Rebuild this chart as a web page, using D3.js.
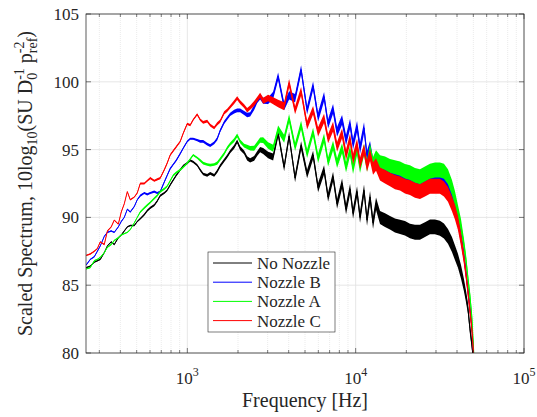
<!DOCTYPE html>
<html>
<head>
<meta charset="utf-8">
<script src="https://cdn.jsdelivr.net/npm/d3@7"></script>
<style>
  body { margin: 0; background: #fff; }
</style>
</head>
<body>
<div id="chart"></div>
<script>
// frequencies (Hz) shared by all four spectra
var freqHz = [
  251, 265, 280, 292, 304, 321, 335, 353, 368, 389,
  405, 422, 440, 458, 484, 504, 525, 555, 578, 602,
  636, 662, 690, 729, 759, 791, 824, 859, 907, 945,
  998, 1040, 1083, 1144, 1192, 1242, 1312, 1367, 1443, 1504,
  1567, 1655, 1724, 1796, 1897, 1977, 2059, 2175, 2266, 2361,
  2494, 2598, 2707,
  2820, 3020, 3233, 3462, 3758, 4023, 4366, 4740, 5145, 5585,
  5979, 6490, 6855, 7340, 7753, 8302, 8766, 9260, 9647, 10190,
  10615, 11210, 11680, 12170, 12680, 13210,
  13950, 14940, 15990, 17120, 18340, 19630, 21020, 22510, 24100, 25800,
  27630, 29580, 31670, 33450, 35340, 37320, 38880, 40510, 42210, 43970,
  45190, 46440, 47730, 49050, 50410, 51800
];

// scaled spectrum, dB
var noNozzle = [
  86.3, 86.4, 86.7, 86.8, 86.9, 87.4, 87.9, 88.2, 88.0, 88.5,
  88.7, 89.0, 89.3, 89.4, 89.4, 89.7, 89.9, 90.2, 90.5, 90.7,
  90.9, 91.2, 91.6, 91.8, 92.0, 92.4, 92.75, 93.1, 93.5, 93.8,
  94.0, 94.2, 94.1, 93.85, 93.5, 93.2, 93.1, 93.25, 93.1, 93.4,
  93.8, 94.2, 94.5, 94.85, 95.2, 95.6, 95.1, 94.8, 94.35, 94.2,
  94.35, 94.7, 95.0,
  94.9, 94.6, 94.45, 96.2, 93.7, 96.0, 92.9, 95.3, 93.2, 94.6,
  92.2, 93.5, 91.5, 93.0, 91.0, 92.5, 90.6, 92.1, 90.3, 91.9,
  90.0, 92.0, 89.8, 91.5, 89.6, 91.0,
  90.0, 89.8, 89.6, 89.4, 89.3, 89.2, 89.0, 88.9, 88.9, 89.1,
  89.3, 89.3, 89.2, 89.0, 88.6, 88.0, 87.4, 86.8, 86.0, 85.0,
  84.2, 83.3, 81.8, 80.6, 79.0, 76.0
];
var nozzleB = [
  86.5, 86.9, 87.1, 87.5, 87.9, 88.6, 88.9, 89.0, 88.9, 89.3,
  89.7, 90.0, 90.6, 90.4, 90.8, 91.3, 91.6, 91.8, 91.7, 91.8,
  91.9, 91.8, 91.9, 92.6, 93.1, 93.6, 93.9, 94.2, 94.7, 95.1,
  95.6, 95.8, 95.8, 95.7, 95.6, 95.6, 95.4, 95.3, 95.5, 95.8,
  96.4, 97.0, 97.3, 97.6, 97.8, 97.9, 97.9, 97.7, 97.55, 97.6,
  98.1, 98.6, 98.9,
  98.6, 98.6, 99.0, 100.4, 98.2, 99.0, 98.8, 100.9, 97.9, 99.7,
  97.4, 98.9, 96.9, 98.0, 96.3, 97.2, 95.7, 96.9, 95.4, 96.7,
  95.1, 96.6, 94.5, 95.2, 93.9, 94.2,
  93.5, 93.3, 93.1, 92.9, 92.8, 92.6, 92.5, 92.3, 92.2, 92.4,
  92.7, 92.7, 92.7, 92.5, 92.0, 91.3, 90.6, 89.8, 88.6, 87.2,
  86.0, 84.7, 83.3, 81.9, 79.6, 76.0
];
var nozzleA = [
  86.2, 86.3, 86.8, 86.9, 87.05, 87.4, 87.8, 88.0, 88.3, 88.5,
  88.7, 88.8, 88.9, 89.1, 89.6, 90.0, 90.4, 90.7, 90.9, 91.1,
  91.4, 91.6, 91.9, 92.1, 92.3, 92.7, 93.1, 93.3, 93.5, 93.7,
  94.0, 94.3, 94.6, 94.4, 94.2, 94.0, 93.9, 93.85, 93.9, 94.0,
  94.3, 94.7, 95.1, 95.4, 95.7, 96.05, 95.6, 95.3, 95.2, 95.1,
  95.1, 95.4, 95.7,
  95.7, 95.3, 95.1, 96.5, 95.8, 97.3, 95.2, 96.8, 94.7, 96.3,
  94.35, 95.85, 94.1, 95.3, 94.0, 95.1, 93.7, 94.9, 93.6, 95.0,
  93.7, 95.0, 93.8, 95.0, 94.0, 94.5,
  94.1, 94.0, 93.8, 93.7, 93.6, 93.4, 93.3, 93.1, 93.0, 93.2,
  93.4, 93.5, 93.5, 93.4, 93.0, 92.2, 91.4, 90.4, 89.4, 88.0,
  86.9, 85.5, 84.2, 82.6, 79.8, 76.0
];
var nozzleC = [
  87.2, 87.3, 87.5, 87.7, 88.2, 88.0, 89.0, 89.3, 89.8, 89.5,
  90.4, 91.0, 91.9, 91.3, 91.5, 91.8, 92.5, 92.5, 92.7, 92.9,
  92.7, 92.8, 92.9, 93.5, 94.0, 94.6, 94.9, 95.2, 95.6, 96.2,
  96.9, 96.8, 97.2, 97.6, 97.2, 97.0, 97.1, 96.8, 96.6, 96.9,
  97.1, 97.7, 97.9, 98.15, 98.5, 98.8, 98.5, 98.2, 97.9, 98.1,
  98.4, 98.7, 99.0,
  98.6, 98.8, 98.6, 98.4, 98.2, 99.9, 97.9, 99.3, 96.8, 97.9,
  96.3, 97.3, 95.8, 96.7, 95.2, 96.2, 94.6, 95.8, 94.3, 95.4,
  94.0, 95.0, 93.8, 94.6, 93.6, 93.9,
  93.2, 93.0, 92.8, 92.6, 92.5, 92.3, 92.2, 92.0, 91.9, 92.1,
  92.3, 92.3, 92.3, 92.1, 91.7, 91.0, 90.4, 89.6, 88.4, 87.0,
  85.8, 84.5, 83.1, 81.7, 79.5, 76.0
];

// half width (dB) of the dense scatter of the narrow-band spectra
var scatterDb = [
  0.05, 0.05, 0.05, 0.05, 0.05, 0.05, 0.05, 0.05, 0.05, 0.05,
  0.05, 0.05, 0.05, 0.05, 0.05, 0.05, 0.08, 0.08, 0.08, 0.08,
  0.08, 0.08, 0.08, 0.08, 0.08, 0.08, 0.08, 0.08, 0.08, 0.08,
  0.08, 0.08, 0.08, 0.08, 0.1, 0.1, 0.1, 0.1, 0.1, 0.12,
  0.12, 0.12, 0.12, 0.12, 0.14, 0.14, 0.14, 0.14, 0.16, 0.16,
  0.18, 0.18, 0.2,
  0.22, 0.24, 0.26, 0.28, 0.3, 0.3, 0.3, 0.32, 0.32, 0.32,
  0.34, 0.34, 0.34, 0.36, 0.36, 0.36, 0.38, 0.38, 0.4, 0.4,
  0.42, 0.42, 0.44, 0.44, 0.46, 0.46,
  0.48, 0.5, 0.5, 0.52, 0.52, 0.54, 0.54, 0.55, 0.55, 0.55,
  0.55, 0.55, 0.55, 0.55, 0.55, 0.55, 0.55, 0.52, 0.5, 0.45,
  0.42, 0.4, 0.4, 0.4, 0.4, 0.4
];

var seriesNames = ["No Nozzle", "Nozzle B", "Nozzle A", "Nozzle C"];
var seriesValues = [noNozzle, nozzleB, nozzleA, nozzleC];

var yTicks = [80, 85, 90, 95, 100, 105];
var xDecades = [1e3, 1e4, 1e5];

// plot size
var width = 537, height = 417;
var margin = { top: 14, right: 13, bottom: 64, left: 86 };
var plot_width = width - margin.left - margin.right;
var plot_height = height - margin.top - margin.bottom;

var colors = ["#000000", "#0000ff", "#00ff00", "#ff0000"];
var serif = "'Liberation Serif', 'Times New Roman', Times, serif";

var x = d3.scaleLog().domain([250, 1e5]).range([0, plot_width]);
var y = d3.scaleLinear().domain([80, 105]).range([plot_height, 0]);

var svg = d3
  .select("#chart")
  .append("svg")
  .attr("width", width)
  .attr("height", height)
  .style("font-family", serif);

var g = svg
  .append("g")
  .attr("transform", "translate(" + margin.left + "," + margin.top + ")");

g.append("clipPath")
  .attr("id", "clip")
  .append("rect")
  .attr("width", plot_width)
  .attr("height", plot_height);

// minor and major grid
var minorX = x.ticks().filter(function(d) {
  return Math.abs(Math.log10(d) - Math.round(Math.log10(d))) > 1e-6;
});

g.selectAll(".minor-grid")
  .data(minorX)
  .enter()
  .append("line")
  .attr("x1", function(d) { return x(d); })
  .attr("x2", function(d) { return x(d); })
  .attr("y1", 0)
  .attr("y2", plot_height)
  .attr("stroke", "#e2e2e2")
  .attr("stroke-width", 0.7)
  .attr("stroke-dasharray", "1,1");

g.selectAll(".xgrid")
  .data(xDecades)
  .enter()
  .append("line")
  .attr("x1", function(d) { return x(d); })
  .attr("x2", function(d) { return x(d); })
  .attr("y1", 0)
  .attr("y2", plot_height)
  .attr("stroke", "#e0e0e0")
  .attr("stroke-width", 0.8);

g.selectAll(".ygrid")
  .data(yTicks)
  .enter()
  .append("line")
  .attr("x1", 0)
  .attr("x2", plot_width)
  .attr("y1", function(d) { return y(d); })
  .attr("y2", function(d) { return y(d); })
  .attr("stroke", "#e0e0e0")
  .attr("stroke-width", 0.8);

// spectra: dense scatter band plus the trace itself
var band = d3
  .area()
  .x(function(d) { return x(d.f); })
  .y0(function(d) { return y(d.v - d.s); })
  .y1(function(d) { return y(d.v + d.s); });

var line = d3
  .line()
  .x(function(d) { return x(d.f); })
  .y(function(d) { return y(d.v); });

var curves = g.append("g").attr("clip-path", "url(#clip)");

seriesValues.forEach(function(values, i) {
  var pts = freqHz.map(function(f, j) {
    return { f: f, v: values[j], s: scatterDb[j] };
  });
  curves
    .append("path")
    .datum(pts)
    .attr("d", band)
    .attr("fill", colors[i]);
  curves
    .append("path")
    .datum(pts)
    .attr("d", line)
    .attr("fill", "none")
    .attr("stroke", colors[i])
    .attr("stroke-width", 1);
});

// box and ticks
g.append("rect")
  .attr("width", plot_width)
  .attr("height", plot_height)
  .attr("fill", "none")
  .attr("stroke", "#262626")
  .attr("stroke-width", 0.75);

var tickColor = "#262626";

x.ticks().forEach(function(d) {
  var major = xDecades.indexOf(d) >= 0;
  var len = major ? 5 : 3;
  [0, plot_height].forEach(function(y0) {
    var dir = y0 === 0 ? 1 : -1;
    g.append("line")
      .attr("x1", x(d)).attr("x2", x(d))
      .attr("y1", y0).attr("y2", y0 + dir * len)
      .attr("stroke", tickColor)
      .attr("stroke-width", 0.6);
  });
});

yTicks.forEach(function(d) {
  g.append("line")
    .attr("x1", 0).attr("x2", 5)
    .attr("y1", y(d)).attr("y2", y(d))
    .attr("stroke", tickColor).attr("stroke-width", 0.6);
  g.append("line")
    .attr("x1", plot_width).attr("x2", plot_width - 5)
    .attr("y1", y(d)).attr("y2", y(d))
    .attr("stroke", tickColor).attr("stroke-width", 0.6);
});

// tick labels
g.selectAll(".ylab")
  .data(yTicks)
  .enter()
  .append("text")
  .attr("x", -7)
  .attr("y", function(d) { return y(d); })
  .attr("dy", "0.35em")
  .attr("text-anchor", "end")
  .attr("font-size", 17)
  .text(function(d) { return d; });

xDecades.forEach(function(d) {
  var t = g.append("text")
    .attr("x", x(d))
    .attr("y", plot_height + 31)
    .attr("text-anchor", "middle")
    .attr("font-size", 17);
  t.append("tspan").text("10");
  t.append("tspan")
    .attr("font-size", 12)
    .attr("dy", -8)
    .text(Math.round(Math.log10(d)));
});

// axis labels
svg.append("text")
  .attr("x", margin.left + plot_width / 2)
  .attr("y", 407)
  .attr("text-anchor", "middle")
  .attr("font-size", 20)
  .text("Frequency [Hz]");

var subSize = 14, subDy = 5, supDy = 8;
var yl = svg.append("text")
  .attr("transform", "translate(32," + (margin.top + plot_height / 2) + ") rotate(-90)")
  .attr("text-anchor", "middle")
  .attr("font-size", 20);

yl.append("tspan").text("Scaled Spectrum, 10log");
yl.append("tspan").attr("font-size", subSize).attr("dy", subDy).text("10");
yl.append("tspan").attr("dy", -subDy).text("(SU D");
var s0 = yl.append("tspan").attr("font-size", subSize).attr("dy", subDy).text("0");
var w0 = s0.node().getComputedTextLength();
yl.append("tspan").attr("font-size", subSize)
  .attr("dx", -w0).attr("dy", -(subDy + supDy)).text("-1");
yl.append("tspan").attr("dy", supDy).text(" p");
var sr = yl.append("tspan").attr("font-size", subSize).attr("dy", subDy).text("ref");
var wr = sr.node().getComputedTextLength();
var s2 = yl.append("tspan").attr("font-size", subSize)
  .attr("dx", -wr).attr("dy", -(subDy + supDy)).text("-2");
var w2 = s2.node().getComputedTextLength();
yl.append("tspan").attr("dx", Math.max(0, wr - w2)).attr("dy", supDy).text(")");

// legend
var legend = svg.append("g").attr("transform", "translate(208,252)");

legend.append("rect")
  .attr("width", 127)
  .attr("height", 80)
  .attr("fill", "#fff")
  .attr("stroke", "#262626")
  .attr("stroke-width", 0.6);

seriesNames.forEach(function(name, i) {
  var ly = 11 + i * 19.2;
  legend.append("line")
    .attr("x1", 5).attr("x2", 44)
    .attr("y1", ly).attr("y2", ly)
    .attr("stroke", colors[i])
    .attr("stroke-width", 1);
  legend.append("text")
    .attr("x", 49)
    .attr("y", ly)
    .attr("dy", "0.35em")
    .attr("font-size", 17)
    .text(name);
});

svg.selectAll("text")
  .style("font-family", serif)
  .attr("fill", "#262626");
</script>
</body>
</html>
